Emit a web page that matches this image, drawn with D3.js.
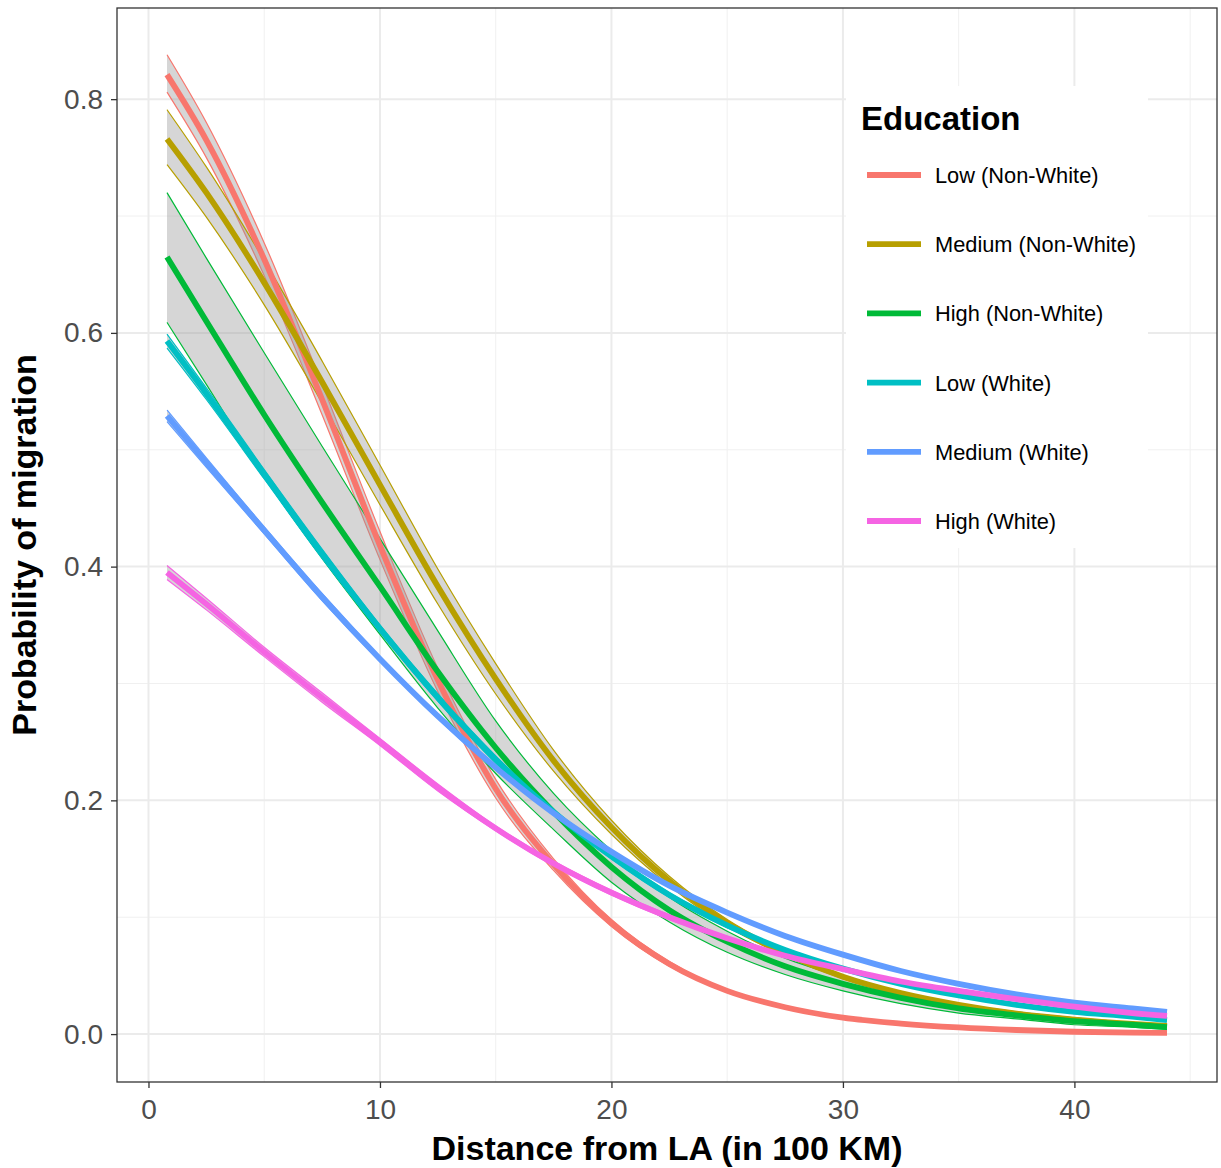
<!DOCTYPE html>
<html>
<head>
<meta charset="utf-8">
<script src="https://cdn.jsdelivr.net/npm/d3@7"></script>
<style>
  html, body { margin: 0; padding: 0; background: #fff; }
  svg { display: block; font-family: "Liberation Sans", Arial, sans-serif; }
</style>
</head>
<body>
<svg id="chart" width="1221" height="1168"></svg>
<script>
// ---- data ----
const distance = [0.8, 2.5, 5, 7.5, 10, 12.5, 15, 17.5, 20, 22.5, 25, 27.5, 30, 32.5, 35, 37.5, 40, 42.5, 44];

const seriesNames = ["Low (Non-White)", "Medium (Non-White)", "High (Non-White)", "Low (White)", "Medium (White)", "High (White)"];
const seriesColors = ["#F8766D", "#B79F00", "#00BA38", "#00BFC4", "#619CFF", "#F564E3"];

const lowNonWhite    = [0.821, 0.765, 0.663, 0.543, 0.418, 0.303, 0.210, 0.145, 0.095, 0.060, 0.037, 0.023, 0.014, 0.009, 0.0057, 0.0035, 0.002, 0.0012, 0.001];
const lowNonWhiteLo  = [0.806, 0.750, 0.649, 0.530, 0.406, 0.293, 0.202, 0.140, 0.092, 0.058, 0.036, 0.022, 0.013, 0.0085, 0.0052, 0.0031, 0.0017, 0.0009, 0.0007];
const lowNonWhiteHi  = [0.838, 0.780, 0.677, 0.556, 0.430, 0.313, 0.218, 0.150, 0.098, 0.062, 0.038, 0.024, 0.015, 0.0095, 0.0062, 0.0039, 0.0023, 0.0015, 0.0013];

const medNonWhite    = [0.766, 0.720, 0.643, 0.558, 0.470, 0.383, 0.304, 0.234, 0.177, 0.131, 0.095, 0.069, 0.049, 0.035, 0.025, 0.0175, 0.0124, 0.0087, 0.007];
const medNonWhiteLo  = [0.744, 0.699, 0.624, 0.540, 0.453, 0.368, 0.291, 0.225, 0.171, 0.127, 0.092, 0.067, 0.0475, 0.034, 0.024, 0.0168, 0.0119, 0.0083, 0.0067];
const medNonWhiteHi  = [0.791, 0.742, 0.662, 0.576, 0.487, 0.398, 0.317, 0.243, 0.183, 0.135, 0.098, 0.071, 0.0505, 0.036, 0.026, 0.0182, 0.0129, 0.0091, 0.0073];

const highNonWhite   = [0.665, 0.610, 0.530, 0.455, 0.383, 0.310, 0.245, 0.190, 0.143, 0.106, 0.079, 0.058, 0.043, 0.031, 0.022, 0.016, 0.011, 0.008, 0.006];
const highNonWhiteLo = [0.609, 0.556, 0.477, 0.407, 0.342, 0.279, 0.223, 0.175, 0.130, 0.096, 0.070, 0.051, 0.037, 0.026, 0.018, 0.013, 0.008, 0.006, 0.004];
const highNonWhiteHi = [0.720, 0.664, 0.583, 0.503, 0.424, 0.345, 0.268, 0.206, 0.157, 0.117, 0.088, 0.065, 0.049, 0.036, 0.026, 0.019, 0.014, 0.010, 0.008];

const lowWhite       = [0.593, 0.548, 0.479, 0.411, 0.347, 0.288, 0.235, 0.190, 0.152, 0.119, 0.093, 0.072, 0.056, 0.043, 0.033, 0.025, 0.019, 0.015, 0.012];
const lowWhiteLo     = [0.587, 0.543, 0.475, 0.407, 0.344, 0.285, 0.232, 0.188, 0.150, 0.117, 0.091, 0.071, 0.055, 0.042, 0.032, 0.024, 0.018, 0.014, 0.011];
const lowWhiteHi     = [0.599, 0.553, 0.483, 0.415, 0.350, 0.291, 0.238, 0.192, 0.154, 0.121, 0.095, 0.073, 0.057, 0.044, 0.034, 0.026, 0.020, 0.016, 0.013];

const medWhite       = [0.529, 0.489, 0.431, 0.374, 0.321, 0.272, 0.228, 0.189, 0.156, 0.127, 0.104, 0.084, 0.068, 0.054, 0.043, 0.034, 0.027, 0.022, 0.019];
const medWhiteLo     = [0.524, 0.485, 0.428, 0.371, 0.319, 0.270, 0.226, 0.188, 0.155, 0.126, 0.103, 0.083, 0.067, 0.053, 0.042, 0.033, 0.026, 0.021, 0.018];
const medWhiteHi     = [0.534, 0.493, 0.434, 0.377, 0.323, 0.274, 0.230, 0.190, 0.157, 0.128, 0.105, 0.085, 0.069, 0.055, 0.044, 0.035, 0.028, 0.023, 0.020];

const highWhite      = [0.395, 0.368, 0.327, 0.288, 0.250, 0.211, 0.176, 0.146, 0.121, 0.100, 0.082, 0.067, 0.0555, 0.045, 0.037, 0.030, 0.0235, 0.018, 0.0155];
const highWhiteLo    = [0.389, 0.363, 0.323, 0.284, 0.247, 0.208, 0.174, 0.144, 0.119, 0.098, 0.081, 0.066, 0.0545, 0.044, 0.036, 0.029, 0.0228, 0.0174, 0.015];
const highWhiteHi    = [0.401, 0.373, 0.331, 0.292, 0.253, 0.214, 0.178, 0.148, 0.123, 0.102, 0.083, 0.068, 0.0565, 0.046, 0.038, 0.031, 0.0242, 0.0186, 0.016];

const xTicks = [0, 10, 20, 30, 40];
const xMinor = [5, 15, 25, 35, 45];
const yTicks = [0, 0.2, 0.4, 0.6, 0.8];
const yMinor = [0.1, 0.3, 0.5, 0.7];
const yTickLabels = ["0.0", "0.2", "0.4", "0.6", "0.8"];

// ---- assemble ----
const fits = [lowNonWhite, medNonWhite, highNonWhite, lowWhite, medWhite, highWhite];
const lows = [lowNonWhiteLo, medNonWhiteLo, highNonWhiteLo, lowWhiteLo, medWhiteLo, highWhiteLo];
const highs = [lowNonWhiteHi, medNonWhiteHi, highNonWhiteHi, lowWhiteHi, medWhiteHi, highWhiteHi];
const series = seriesNames.map((name, i) => ({
  name, color: seriesColors[i],
  pts: distance.map((d, j) => ({ x: d, y: fits[i][j], lo: lows[i][j], hi: highs[i][j] }))
}));

const svg = d3.select("#chart");
const P = { left: 117, right: 1217, top: 8, bottom: 1082 };
const x = d3.scaleLinear().domain([-1.36, 46.16]).range([P.left, P.right]);
const y = d3.scaleLinear().domain([-0.041, 0.878]).range([P.bottom, P.top]);

// panel background
svg.append("rect").attr("x", P.left).attr("y", P.top)
  .attr("width", P.right - P.left).attr("height", P.bottom - P.top).attr("fill", "#fff");

// grid
const grid = svg.append("g");
grid.selectAll(".gxm").data(xMinor).enter().append("line")
  .attr("x1", d => x(d)).attr("x2", d => x(d)).attr("y1", P.top).attr("y2", P.bottom)
  .attr("stroke", "#f0f0f0").attr("stroke-width", 1);
grid.selectAll(".gym").data(yMinor).enter().append("line")
  .attr("y1", d => y(d)).attr("y2", d => y(d)).attr("x1", P.left).attr("x2", P.right)
  .attr("stroke", "#f0f0f0").attr("stroke-width", 1);
grid.selectAll(".gx").data(xTicks).enter().append("line")
  .attr("x1", d => x(d)).attr("x2", d => x(d)).attr("y1", P.top).attr("y2", P.bottom)
  .attr("stroke", "#ebebeb").attr("stroke-width", 2);
grid.selectAll(".gy").data(yTicks).enter().append("line")
  .attr("y1", d => y(d)).attr("y2", d => y(d)).attr("x1", P.left).attr("x2", P.right)
  .attr("stroke", "#ebebeb").attr("stroke-width", 2);

// legend background (hides grid)
const legend = svg.append("g");
legend.append("rect").attr("x", 846).attr("y", 86).attr("width", 302).attr("height", 462).attr("fill", "#fff");

// ribbons
const clipId = "panelClip";
svg.append("clipPath").attr("id", clipId).append("rect")
  .attr("x", P.left).attr("y", P.top).attr("width", P.right - P.left).attr("height", P.bottom - P.top);
const plot = svg.append("g").attr("clip-path", `url(#${clipId})`);

const area = d3.area().x(d => x(d.x)).y0(d => y(d.lo)).y1(d => y(d.hi)).curve(d3.curveMonotoneX);
const lineLo = d3.line().x(d => x(d.x)).y(d => y(d.lo)).curve(d3.curveMonotoneX);
const lineHi = d3.line().x(d => x(d.x)).y(d => y(d.hi)).curve(d3.curveMonotoneX);
const lineFit = d3.line().x(d => x(d.x)).y(d => y(d.y)).curve(d3.curveMonotoneX);

series.forEach(s => {
  plot.append("path").attr("d", area(s.pts)).attr("fill", "#999999").attr("fill-opacity", 0.4);
  plot.append("path").attr("d", lineLo(s.pts)).attr("fill", "none").attr("stroke", s.color).attr("stroke-width", 1.2);
  plot.append("path").attr("d", lineHi(s.pts)).attr("fill", "none").attr("stroke", s.color).attr("stroke-width", 1.2);
});
series.forEach(s => {
  plot.append("path").attr("d", lineFit(s.pts)).attr("fill", "none").attr("stroke", s.color)
    .attr("stroke-width", 5.8).attr("stroke-linejoin", "round");
});

// panel border
svg.append("rect").attr("x", P.left).attr("y", P.top)
  .attr("width", P.right - P.left).attr("height", P.bottom - P.top)
  .attr("fill", "none").attr("stroke", "#333333").attr("stroke-width", 1.3);

// axes
const xAxis = svg.append("g").attr("transform", `translate(0,${P.bottom})`)
  .call(d3.axisBottom(x).tickValues(xTicks).tickSize(6).tickPadding(11).tickFormat(d3.format("d")));
const yAxis = svg.append("g").attr("transform", `translate(${P.left},0)`)
  .call(d3.axisLeft(y).tickValues(yTicks).tickSize(6).tickPadding(8).tickFormat((d, i) => yTickLabels[i]));
[xAxis, yAxis].forEach(a => {
  a.select(".domain").remove();
  a.selectAll(".tick line").attr("stroke", "#333333").attr("stroke-width", 1.3);
  a.selectAll(".tick text").attr("fill", "#4d4d4d").attr("font-size", 28)
    .attr("font-family", "Liberation Sans, Arial, sans-serif");
});

// axis titles
svg.append("text").attr("x", (P.left + P.right) / 2).attr("y", 1160)
  .attr("text-anchor", "middle").attr("font-size", 34).attr("font-weight", "bold").attr("fill", "#000")
  .text("Distance from LA (in 100 KM)");
svg.append("text").attr("transform", `translate(36,${(P.top + P.bottom) / 2}) rotate(-90)`)
  .attr("text-anchor", "middle").attr("font-size", 34).attr("font-weight", "bold").attr("fill", "#000")
  .text("Probability of migration");

// legend
legend.append("text").attr("x", 861).attr("y", 130).attr("font-size", 33).attr("font-weight", "bold")
  .attr("fill", "#000").text("Education");
const ly = d3.scaleLinear().domain([0, 5]).range([175, 521]);
seriesNames.forEach((name, i) => {
  legend.append("line").attr("x1", 867).attr("x2", 921).attr("y1", ly(i)).attr("y2", ly(i))
    .attr("stroke", seriesColors[i]).attr("stroke-width", 5.8);
  legend.append("text").attr("x", 935).attr("y", ly(i) + 8).attr("font-size", 21.8)
    .attr("fill", "#000").text(name);
});
</script>
</body>
</html>
